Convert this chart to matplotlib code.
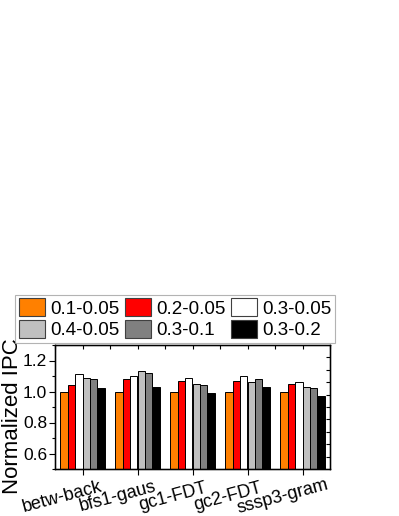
import matplotlib
matplotlib.use("Agg")
import matplotlib.pyplot as plt
import numpy as np
from matplotlib.transforms import ScaledTranslation
from matplotlib.patches import Patch

plt.rcParams['font.family'] = ['Liberation Sans', 'DejaVu Sans']

categories = ["betw-back", "bfs1-gaus", "gc1-FDT", "gc2-FDT", "sssp3-gram"]
series_names = ["0.1-0.05", "0.2-0.05", "0.3-0.05", "0.4-0.05", "0.3-0.1", "0.3-0.2"]
series_colors = ["#FF8000", "#FF0000", "#FFFFFF", "#C0C0C0", "#808080", "#000000"]
v_01_005 = [1.00, 1.00, 1.00, 1.00, 1.00]
v_02_005 = [1.04, 1.08, 1.07, 1.07, 1.05]
v_03_005 = [1.11, 1.10, 1.09, 1.10, 1.06]
v_04_005 = [1.09, 1.13, 1.05, 1.06, 1.03]
v_03_01 = [1.08, 1.12, 1.04, 1.08, 1.02]
v_03_02 = [1.02, 1.03, 0.99, 1.03, 0.97]
values = [v_01_005, v_02_005, v_03_005, v_04_005, v_03_01, v_03_02]
yticks = [0.6, 0.8, 1.0, 1.2]

fig = plt.figure(figsize=(3.99, 5.16), dpi=100)
ax = fig.add_axes([55/399, 1-469/516, 275/399, 124/516])

x = np.arange(len(categories))
w = 0.1336
for j, (vals, col) in enumerate(zip(values, series_colors)):
    ax.bar(x + (j - 2.5) * w, vals, width=w, color=col, edgecolor='black',
           linewidth=0.7, label=series_names[j], zorder=2)

ax.set_xlim(-0.5, len(categories) - 0.5)
ax.set_ylim(0.5, 1.3)
ax.set_yticks(yticks)
ax.set_yticklabels([f"{t:.1f}" for t in yticks], fontsize=12.5)
ax.set_yticks(np.arange(0.5, 1.31, 0.1), minor=True)
ax.tick_params(axis='y', which='major', direction='out', length=4, width=0.8, pad=1.5)
ax.tick_params(axis='y', which='minor', direction='out', length=2, width=0.8)
ax.set_xticks(x)
ax.set_xticklabels(categories, fontsize=13, rotation=15, ha='center', va='center',
                   rotation_mode='anchor')
ax.tick_params(axis='x', direction='out', length=4, width=0.8, pad=0)
for lab in ax.get_xticklabels():
    lab.set_transform(lab.get_transform() + ScaledTranslation(-20/100, -22/100, fig.dpi_scale_trans))

for s in ax.spines.values():
    s.set_linewidth(1.0)

axt = ax.twiny()
axt.set_xlim(ax.get_xlim())
axt.set_xticks(np.arange(-0.5, len(categories) - 0.4, 0.5))
axt.set_xticklabels([])
axt.tick_params(axis='x', direction='in', length=3, width=0.8)

axr = ax.twinx()
axr.set_ylim(0, 10)
axr.set_yticks(np.arange(1, 10))
axr.set_yticklabels([])
axr.tick_params(axis='y', direction='in', length=3, width=0.8)

ax.set_ylabel("Normalized IPC", fontsize=16)
ax.yaxis.set_label_coords(-0.118, 0.43)

# row-major ordering for a 3-column legend (matplotlib fills column-wise)
order = [0, 3, 1, 4, 2, 5]
handles = [Patch(facecolor=series_colors[i], edgecolor='#404040', linewidth=0.8) for i in order]
labels = [series_names[i] for i in order]
leg = fig.legend(handles, labels, loc='upper left', bbox_to_anchor=(15/399, 1-294.7/516),
                 ncol=3, fontsize=13.5, frameon=True, fancybox=False, edgecolor='#A0A0A0',
                 handlelength=1.39, handleheight=1.07, handletextpad=0.27, columnspacing=0.3,
                 labelspacing=0.12, borderpad=0.2, borderaxespad=0)
leg.get_frame().set_linewidth(0.8)
leg.set_zorder(10)

fig.savefig("out.png", dpi=100)
